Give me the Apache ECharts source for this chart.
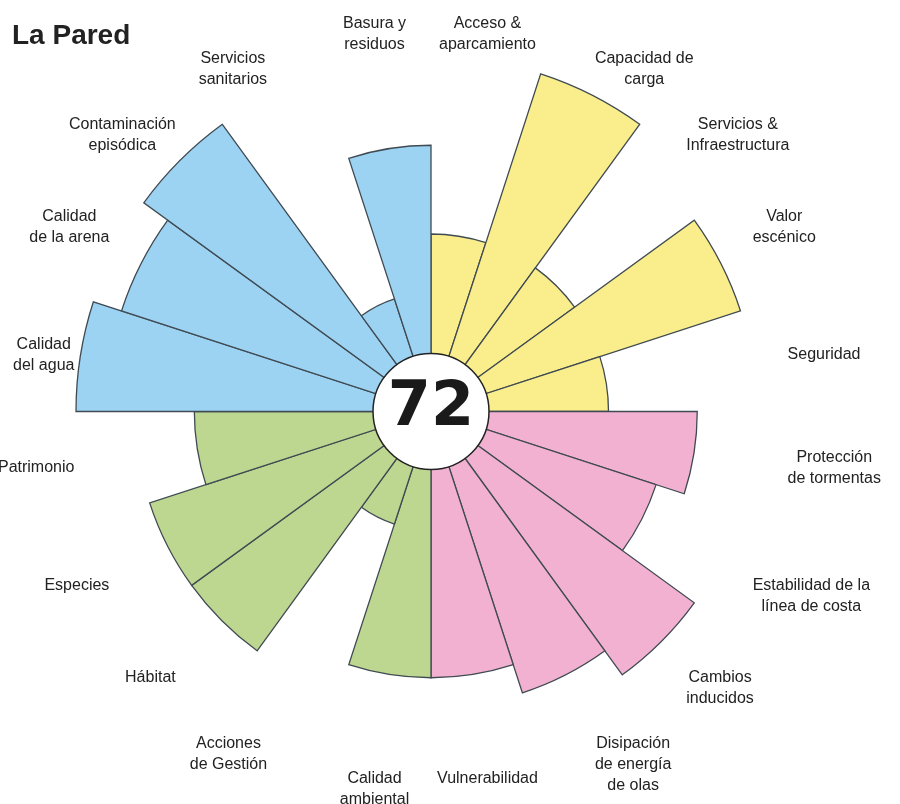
<!DOCTYPE html>
<html><head><meta charset="utf-8">
<script src="https://cdn.jsdelivr.net/npm/echarts@6/dist/echarts.min.js"></script>
<style>html,body{margin:0;padding:0;background:#fff}#c{width:900px;height:804px}</style>
</head><body><div id="c"></div>
<script>
// Categories clockwise from 12 o'clock
const categories = [
  'Acceso &\naparcamiento', 'Capacidad de\ncarga', 'Servicios &\nInfraestructura', 'Valor\nescénico', 'Seguridad',
  'Protección\nde tormentas', 'Estabilidad de la\nlínea de costa', 'Cambios\ninducidos', 'Disipación\nde energía\nde olas', 'Vulnerabilidad',
  'Calidad\nambiental', 'Acciones\nde Gestión', 'Hábitat', 'Especies', 'Patrimonio',
  'Calidad\ndel agua', 'Calidad\nde la arena', 'Contaminación\nepisódica', 'Servicios\nsanitarios', 'Basura y\nresiduos'
];
const scores = [6, 12, 6, 11, 6, 9, 8, 11, 10, 9, 9, 4, 10, 10, 8, 12, 11, 12, 4, 9];
const scoreMax = 12;
const groupSize = 5;
const groupColors = ['#FAEE8C', '#F2B1D1', '#BDD690', '#9DD3F2'];
const totalScore = 72;
const titleText = 'La Pared';

const chart = echarts.init(document.getElementById('c'), null, {renderer: 'canvas'});
const font = "'Liberation Sans', Arial, sans-serif";
chart.setOption({
  animation: false,
  backgroundColor: '#ffffff',
  title: {
    text: titleText, left: 12, top: 22, padding: 0,
    textStyle: {fontSize: 28, fontWeight: 'bold', color: '#222', fontFamily: font}
  },
  polar: {center: [431, 411.5], radius: 355},
  angleAxis: {
    type: 'category',
    data: categories,
    startAngle: 90,
    clockwise: true,
    axisLine: {show: false},
    axisTick: {show: false},
    splitLine: {show: false},
    axisLabel: {
      margin: 6,
      formatter: v => v.split('\n').map(s => '{c|' + s + '}').join('\n'),
      rich: {c: {align: 'center', fontSize: 16, lineHeight: 21, color: '#222', fontFamily: font}}
    }
  },
  radiusAxis: {type: 'value', min: 0, max: scoreMax, show: false, splitLine: {show: false}},
  series: [
    {
      type: 'bar',
      coordinateSystem: 'polar',
      data: scores,
      barCategoryGap: '0%',
      itemStyle: {
        color: p => groupColors[Math.floor(p.dataIndex / groupSize)],
        borderColor: '#3f4a52',
        borderWidth: 1.3
      },
      silent: true
    },
    {
      type: 'pie',
      center: [431, 411.5],
      radius: [0, 58],
      z: 10,
      silent: true,
      data: [{value: 1, name: 'total'}],
      itemStyle: {color: '#ffffff', borderColor: '#222', borderWidth: 1.5},
      label: {
        show: true, position: 'center', formatter: String(totalScore),
        fontSize: 62, fontWeight: 'bold', color: '#1a1a1a', fontFamily: "'DejaVu Sans', sans-serif",
        offset: [0, -3]
      },
      labelLine: {show: false}
    }
  ]
});
</script></body></html>
